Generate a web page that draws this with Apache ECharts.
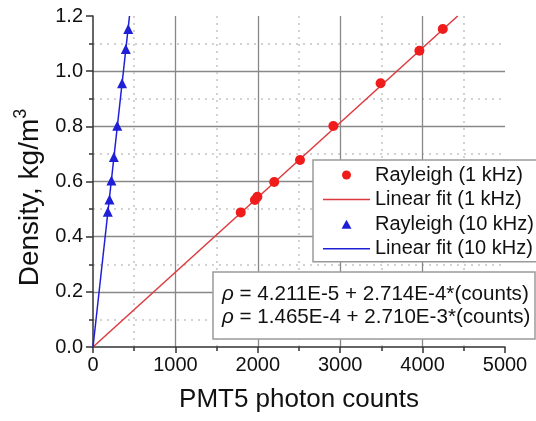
<!DOCTYPE html>
<html>
<head>
<meta charset="utf-8">
<script src="https://cdn.jsdelivr.net/npm/echarts@6/dist/echarts.min.js"></script>
<style>html,body{margin:0;padding:0;background:#fff}#c{width:536px;height:421px}</style>
</head>
<body>
<div id="c"></div>
<script>
// Rayleigh data, 1 kHz (photon counts, density)
const ray1Counts = [1793, 1965, 1995, 2199, 2512, 2917, 3490, 3961, 4245];
const ray1Density = [0.488, 0.533, 0.545, 0.598, 0.678, 0.801, 0.956, 1.074, 1.153];
// Rayleigh data, 10 kHz
const ray10Counts = [180, 200, 224, 253, 294, 353, 398, 428];
const ray10Density = [0.490, 0.535, 0.604, 0.689, 0.802, 0.956, 1.080, 1.153];
// Linear fit endpoints
const fit1Counts = [0, 4426];
const fit1Density = [0.0000421, 1.2];
const fit10Counts = [0, 443];
const fit10Density = [0.0001465, 1.2];
// Labels
const seriesNames = ['Rayleigh (1 kHz)', 'Linear fit (1 kHz)', 'Rayleigh (10 kHz)', 'Linear fit (10 kHz)'];
const eqLines = ['= 4.211E-5 + 2.714E-4*(counts)', '= 1.465E-4 + 2.710E-3*(counts)'];
const xTitle = 'PMT5 photon counts';
const yTitle = 'Density, kg/m';

const zip = (a, b) => a.map((v, i) => [v, b[i]]);
const FONT = '"Liberation Sans", Arial, sans-serif';
const RED = '#f01c1c', REDLINE = '#dc3a3e', BLUE = '#1f1fd8';
const LINE_ICON = 'path://M0,0 L47,0 L47,1.5 L0,1.5 Z';
const TRI_ICON = 'path://M5,0 L10,9 L0,9 Z';

const chart = echarts.init(document.getElementById('c'), null, {renderer: 'canvas'});
chart.setOption({
  animation: false,
  backgroundColor: '#fff',
  textStyle: {fontFamily: FONT},
  grid: {left: 93, right: 31, top: 16, bottom: 74},
  title: {
    left: 213, top: 272,
    text: eqLines.map(s => '{i|ρ} ' + s).join('\n'),
    backgroundColor: '#fff',
    borderColor: '#9a9a9a', borderWidth: 1.5,
    padding: [11, 5, 10, 9],
    textStyle: {
      fontFamily: FONT, fontSize: 20.6, fontWeight: 'normal', color: '#111', lineHeight: 23,
      rich: {i: {fontFamily: FONT, fontSize: 20.6, fontStyle: 'italic', color: '#111', lineHeight: 23}}
    }
  },
  legend: {
    orient: 'vertical',
    left: 313, top: 160,
    padding: [5, 20, 3, 10],
    itemGap: 4.6,
    itemWidth: 47, itemHeight: 9,
    symbolKeepAspect: true,
    backgroundColor: '#fff',
    borderColor: '#9a9a9a', borderWidth: 1.5,
    borderRadius: 0,
    textStyle: {fontFamily: FONT, fontSize: 20, color: '#111'},
    data: [
      {name: seriesNames[0], icon: 'circle'},
      {name: seriesNames[1], icon: LINE_ICON},
      {name: seriesNames[2], icon: TRI_ICON},
      {name: seriesNames[3], icon: LINE_ICON}
    ]
  },
  xAxis: {
    type: 'value', min: 0, max: 5000, interval: 1000,
    name: xTitle, nameLocation: 'middle', nameGap: 40,
    nameTextStyle: {fontFamily: FONT, fontSize: 26, color: '#111'},
    axisLine: {show: true, onZero: false, lineStyle: {color: '#333', width: 1.5}},
    axisTick: {show: true, length: 6, lineStyle: {color: '#333', width: 1.5}},
    minorTick: {show: true, splitNumber: 2, length: 4, lineStyle: {color: '#333', width: 1.5}},
    axisLabel: {fontFamily: FONT, fontSize: 20, color: '#111', margin: 8, formatter: v => String(v)},
    splitLine: {show: true, showMinLine: false, showMaxLine: false, lineStyle: {color: '#888', width: 1.3}},
    minorSplitLine: {show: true, lineStyle: {color: '#c4c4c4', width: 1.5, type: [2, 5]}}
  },
  yAxis: {
    type: 'value', min: 0, max: 1.2, interval: 0.2,
    name: '{a|' + yTitle + '}{s|3}', nameLocation: 'middle', nameGap: 46,
    nameTextStyle: {
      fontFamily: FONT, fontSize: 28, color: '#111', padding: [0, 32, 0, 0],
      rich: {
        a: {fontFamily: FONT, fontSize: 28, color: '#111', lineHeight: 32, verticalAlign: 'bottom'},
        s: {fontFamily: FONT, fontSize: 18, color: '#111', lineHeight: 32, verticalAlign: 'top'}
      }
    },
    axisLine: {show: true, onZero: false, lineStyle: {color: '#333', width: 1.5}},
    axisTick: {show: true, length: 7, lineStyle: {color: '#333', width: 1.5}},
    minorTick: {show: true, splitNumber: 2, length: 4, lineStyle: {color: '#333', width: 1.5}},
    axisLabel: {fontFamily: FONT, fontSize: 20, color: '#111', margin: 10, formatter: v => v.toFixed(1)},
    splitLine: {show: true, showMinLine: false, showMaxLine: false, lineStyle: {color: '#888', width: 1.3}},
    minorSplitLine: {show: true, lineStyle: {color: '#c4c4c4', width: 1.5, type: [2, 5]}}
  },
  series: [
    {
      name: seriesNames[1], type: 'line', data: zip(fit1Counts, fit1Density),
      showSymbol: false, symbol: 'none', clip: true,
      lineStyle: {color: REDLINE, width: 1.5}, itemStyle: {color: REDLINE}, z: 2
    },
    {
      name: seriesNames[3], type: 'line', data: zip(fit10Counts, fit10Density),
      showSymbol: false, symbol: 'none', clip: true,
      lineStyle: {color: BLUE, width: 1.5}, itemStyle: {color: BLUE}, z: 2
    },
    {
      name: seriesNames[0], type: 'scatter', data: zip(ray1Counts, ray1Density),
      symbol: 'circle', symbolSize: 10, itemStyle: {color: RED, opacity: 1}, z: 3
    },
    {
      name: seriesNames[2], type: 'scatter', data: zip(ray10Counts, ray10Density),
      symbol: 'triangle', symbolSize: 10, itemStyle: {color: BLUE, opacity: 1}, z: 3
    }
  ]
});
</script>
</body>
</html>
